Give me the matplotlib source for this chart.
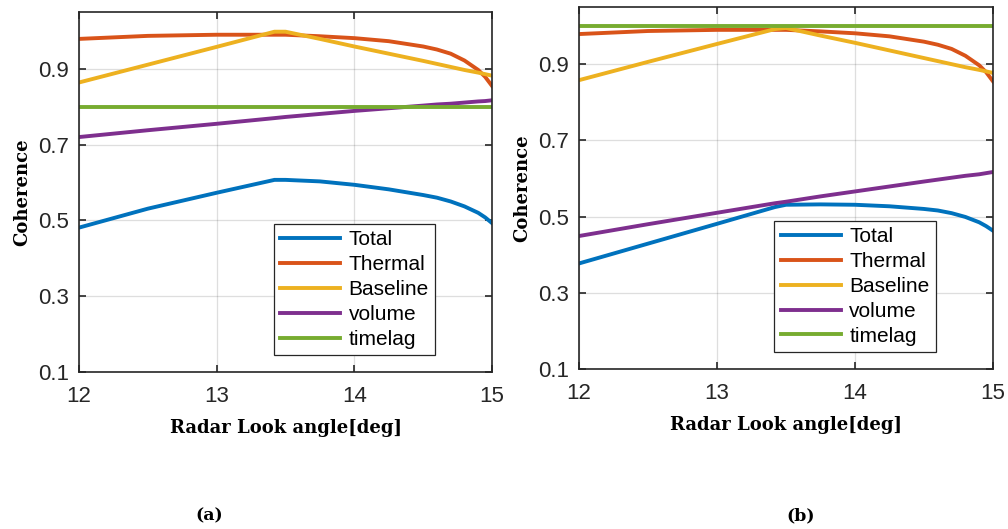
import matplotlib

matplotlib.use("Agg")
import matplotlib.pyplot as plt

# look angle samples [deg]
angle = [12.0, 12.5, 13.0, 13.42, 13.5, 13.75, 14.0, 14.25, 14.5, 14.6, 14.7, 14.8, 14.9, 14.95, 15.0]

# panel (a)
total_a = [0.481, 0.531, 0.573, 0.607, 0.607, 0.603, 0.594, 0.582, 0.567, 0.560, 0.550, 0.537, 0.520, 0.508, 0.493]
thermal_a = [0.979, 0.987, 0.990, 0.990, 0.990, 0.986, 0.981, 0.973, 0.959, 0.951, 0.940, 0.922, 0.897, 0.879, 0.855]
baseline_a = [0.864, 0.911, 0.958, 0.998, 0.998, 0.979, 0.959, 0.940, 0.921, 0.913, 0.905, 0.897, 0.890, 0.886, 0.882]
volume_a = [0.720, 0.738, 0.755, 0.770, 0.773, 0.781, 0.789, 0.796, 0.803, 0.806, 0.808, 0.811, 0.814, 0.815, 0.817]
timelag_a = [0.80] * len(angle)

# panel (b)
total_b = [0.377, 0.429, 0.481, 0.525, 0.531, 0.532, 0.531, 0.527, 0.520, 0.516, 0.509, 0.499, 0.485, 0.475, 0.463]
thermal_b = [0.979, 0.987, 0.990, 0.990, 0.990, 0.986, 0.981, 0.973, 0.959, 0.951, 0.940, 0.922, 0.897, 0.879, 0.855]
baseline_b = [0.858, 0.906, 0.953, 0.992, 0.995, 0.975, 0.956, 0.936, 0.916, 0.908, 0.900, 0.892, 0.885, 0.881, 0.877]
volume_b = [0.449, 0.480, 0.510, 0.535, 0.539, 0.553, 0.566, 0.579, 0.592, 0.597, 0.602, 0.607, 0.611, 0.614, 0.617]
timelag_b = [1.0] * len(angle)

names = ["Total", "Thermal", "Baseline", "volume", "timelag"]
colors = ["#0072BD", "#D95319", "#EDB120", "#7E2F8E", "#77AC30"]
x_ticks = [12, 13, 14, 15]
y_ticks = [0.1, 0.3, 0.5, 0.7, 0.9]

label_font = dict(family="DejaVu Serif", weight="bold", size=13)
tick_color = "#262626"


def draw(ax, series):
    for name, values, color in zip(names, series, colors):
        ax.plot(angle, values, color=color, lw=2.8, label=name, solid_joinstyle="round")
    ax.set_xlim(12, 15)
    ax.set_ylim(0.1, 1.05)
    ax.set_xticks(x_ticks)
    ax.set_yticks(y_ticks)
    ax.set_yticklabels([f"{v:.1f}" for v in y_ticks])
    ax.grid(True, color="#262626", alpha=0.15, lw=0.9)
    ax.set_axisbelow(True)
    ax.tick_params(direction="in", top=True, right=True, length=5, width=1.2,
                   labelsize=16, colors=tick_color, labelcolor=tick_color, pad=7)
    ax.tick_params(axis="x", pad=10)
    for label in ax.get_xticklabels() + ax.get_yticklabels():
        label.set_family("Liberation Sans")
    for spine in ax.spines.values():
        spine.set_color(tick_color)
        spine.set_linewidth(1.2)
    ax.set_xlabel("Radar Look angle[deg]", fontdict=label_font, labelpad=9)
    ax.set_ylabel("Coherence", fontdict=label_font, labelpad=5)
    leg = ax.legend(loc="lower right", bbox_to_anchor=(0.862, 0.047), fancybox=False,
                    framealpha=1, edgecolor=tick_color, handlelength=2.9, handletextpad=0.4,
                    labelspacing=0.28, borderpad=0.3, borderaxespad=0,
                    prop={"family": "Liberation Sans", "size": 15})
    leg.get_frame().set_linewidth(0.9)
    for line in leg.get_lines():
        line.set_linewidth(2.8)


fig = plt.figure(figsize=(10.08, 5.29), dpi=100)
ax_a = fig.add_axes([79 / 1008, 157 / 529, 413 / 1008, 360 / 529])
ax_b = fig.add_axes([579 / 1008, 160 / 529, 414 / 1008, 362 / 529])
draw(ax_a, [total_a, thermal_a, baseline_a, volume_a, timelag_a])
draw(ax_b, [total_b, thermal_b, baseline_b, volume_b, timelag_b])

fig.text(209 / 1008, 1 - 516 / 529, "(a)", ha="center", va="center",
         family="DejaVu Serif", weight="bold", size=12.5)
fig.text(801 / 1008, 1 - 516 / 529, "(b)", ha="center", va="center",
         family="DejaVu Serif", weight="bold", size=12.5)

fig.savefig("out.png", dpi=100, facecolor="white")
